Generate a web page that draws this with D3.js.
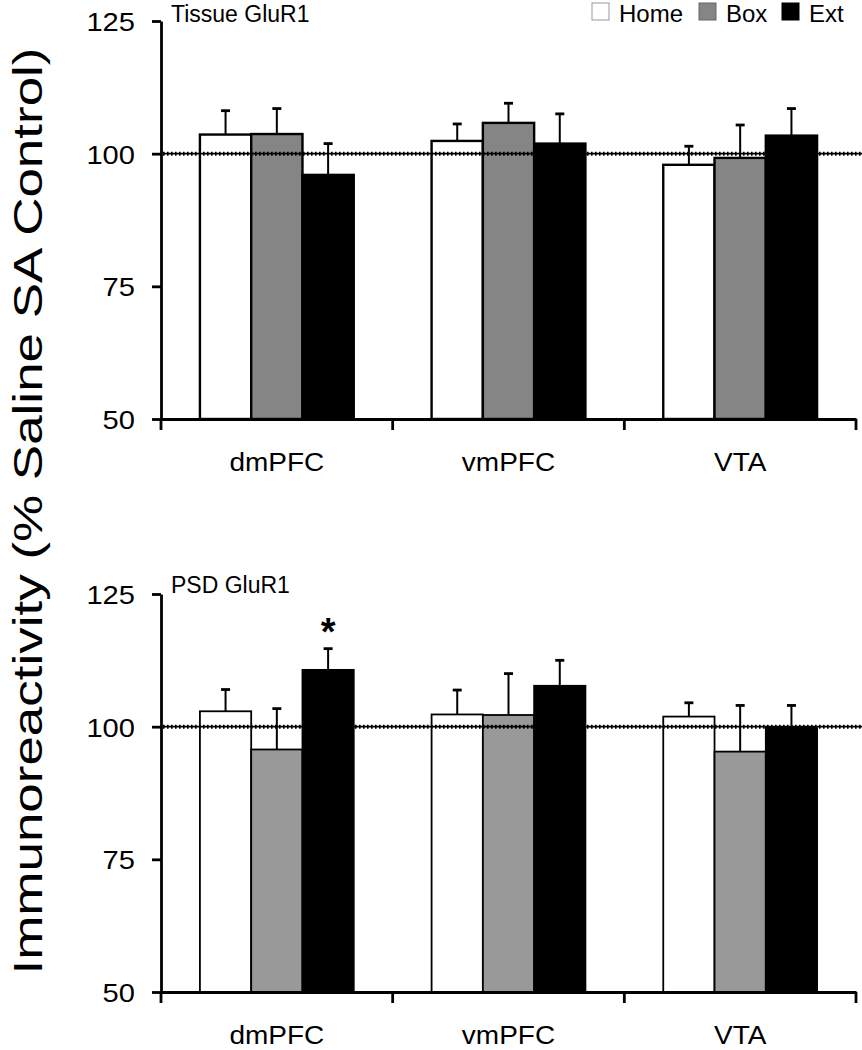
<!DOCTYPE html>
<html>
<head>
<meta charset="utf-8">
<script src="https://cdn.jsdelivr.net/npm/d3@7"></script>
<style>
  html, body { margin: 0; padding: 0; background: #fff; }
  svg { display: block; }
  text { font-family: "Liberation Sans", Arial, Helvetica, sans-serif; fill: #000; }
</style>
</head>
<body>
<svg id="chart" width="862" height="1050"></svg>
<script>
// ---- data ----
const categories = ["dmPFC", "vmPFC", "VTA"];
const series = ["Home", "Box", "Ext"];
const yTicks = [50, 75, 100, 125];

// Tissue GluR1 (% saline SA control): means and SEM, per series across categories
const tissueHome = [103.6, 102.4, 97.9];
const tissueBox  = [103.7, 105.8, 99.2];
const tissueExt  = [96.0, 101.9, 103.4];
const tissueHomeErr = [4.5, 3.2, 3.5];
const tissueBoxErr  = [4.8, 3.7, 6.2];
const tissueExtErr  = [5.9, 5.6, 5.1];

// PSD GluR1
const psdHome = [102.9, 102.3, 101.9];
const psdBox  = [95.7, 102.2, 95.3];
const psdExt  = [110.7, 107.7, 99.8];
const psdHomeErr = [4.1, 4.6, 2.6];
const psdBoxErr  = [7.7, 7.8, 8.7];
const psdExtErr  = [4.0, 4.8, 4.2];

const psdSignificant = [{ category: "dmPFC", series: "Ext" }];

const panelTitles = ["Tissue GluR1", "PSD GluR1"];
const yLabel = "Immunoreactivity (% Saline SA Control)";
const referenceValue = 100;

// ---- build tables ----
function table(vals, errs) {
  const rows = [];
  series.forEach((s, si) => {
    categories.forEach((c, ci) => {
      rows.push({ category: c, series: s, value: vals[si][ci], err: errs[si][ci] });
    });
  });
  return rows;
}
const tissueRows = table([tissueHome, tissueBox, tissueExt], [tissueHomeErr, tissueBoxErr, tissueExtErr]);
const psdRows = table([psdHome, psdBox, psdExt], [psdHomeErr, psdBoxErr, psdExtErr]);

// ---- layout ----
const svg = d3.select("#chart");
const xLeft = 161, xRight = 856;

const x0 = d3.scaleBand().domain(categories).range([xLeft, xRight]).padding(0);
const bw = x0.bandwidth();
const x1 = d3.scaleBand().domain(series).range([bw * 0.168, bw * 0.832]).padding(0);

const panels = [
  { rows: tissueRows, title: panelTitles[0], top: 21, bottom: 419, titleY: 22,
    fills: { Home: "#ffffff", Box: "#858585", Ext: "#000000" }, strokeW: 2.4, sig: [] },
  { rows: psdRows, title: panelTitles[1], top: 594, bottom: 992, titleY: 593,
    fills: { Home: "#ffffff", Box: "#999999", Ext: "#000000" }, strokeW: 1.8, sig: psdSignificant }
];

panels.forEach(p => {
  const y = d3.scaleLinear().domain([50, 125]).range([p.bottom, p.top]);
  const g = svg.append("g");

  // bars
  g.selectAll("rect.bar").data(p.rows).enter().append("rect")
    .attr("class", "bar")
    .attr("x", d => x0(d.category) + x1(d.series))
    .attr("width", x1.bandwidth())
    .attr("y", d => y(d.value))
    .attr("height", d => y(50) - y(d.value))
    .attr("fill", d => p.fills[d.series])
    .attr("stroke", "#000")
    .attr("stroke-width", p.strokeW);

  // error bars
  const eb = g.selectAll("g.err").data(p.rows).enter().append("g").attr("class", "err");
  const cx = d => x0(d.category) + x1(d.series) + x1.bandwidth() / 2;
  eb.append("line")
    .attr("x1", cx).attr("x2", cx)
    .attr("y1", d => y(d.value)).attr("y2", d => y(d.value + d.err))
    .attr("stroke", "#000").attr("stroke-width", 2);
  eb.append("line")
    .attr("x1", d => cx(d) - 4.5).attr("x2", d => cx(d) + 4.5)
    .attr("y1", d => y(d.value + d.err)).attr("y2", d => y(d.value + d.err))
    .attr("stroke", "#000").attr("stroke-width", 2.8);

  // reference line at 100 (dotted)
  g.append("line")
    .attr("x1", xLeft + 2).attr("x2", 862)
    .attr("y1", y(referenceValue)).attr("y2", y(referenceValue))
    .attr("stroke", "#000").attr("stroke-width", 1.8);
  g.append("line")
    .attr("x1", xLeft + 2).attr("x2", 862)
    .attr("y1", y(referenceValue)).attr("y2", y(referenceValue))
    .attr("stroke", "#000").attr("stroke-width", 4)
    .attr("stroke-dasharray", "1.6,2.4");

  // y axis
  const yAxis = g.append("g")
    .attr("transform", `translate(${xLeft},0)`)
    .call(d3.axisLeft(y).tickValues(yTicks).tickSize(9).tickSizeOuter(0).tickFormat(d3.format("d")));
  yAxis.select(".domain").attr("stroke", "#000").attr("stroke-width", 2.8);
  yAxis.selectAll(".tick line").attr("stroke", "#000").attr("stroke-width", 2.8);
  yAxis.selectAll(".tick text")
    .attr("x", 0).attr("dy", "0.36em")
    .attr("transform", "translate(-26,0) scale(1.12,1)")
    .style("font-size", "26px")
    .style("font-family", "'Liberation Sans', Arial, sans-serif");

  // x axis
  const xAxis = g.append("g")
    .attr("transform", `translate(0,${p.bottom})`)
    .call(d3.axisBottom(x0).tickSize(0).tickSizeOuter(0));
  xAxis.select(".domain").attr("stroke", "#000").attr("stroke-width", 2.8);
  xAxis.selectAll(".tick text")
    .attr("y", 0).attr("dy", 0)
    .attr("transform", "translate(0,52) scale(1.12,1)")
    .style("font-size", "25px")
    .style("font-family", "'Liberation Sans', Arial, sans-serif");
  // boundary ticks between categories
  const bounds = categories.map(c => x0(c)).concat([x0(categories[categories.length - 1]) + bw]);
  xAxis.selectAll("line.bound").data(bounds).enter().append("line")
    .attr("class", "bound")
    .attr("x1", d => d).attr("x2", d => d)
    .attr("y1", 0).attr("y2", 11)
    .attr("stroke", "#000").attr("stroke-width", 2.8);

  // panel title
  g.append("text")
    .attr("x", xLeft + 10).attr("y", p.titleY)
    .style("font-size", "23px")
    .text(p.title);

  // significance
  g.selectAll("text.sig").data(p.sig).enter().append("text")
    .attr("class", "sig")
    .attr("x", d => x0(d.category) + x1(d.series) + x1.bandwidth() / 2)
    .attr("y", d => {
      const r = p.rows.find(q => q.category === d.category && q.series === d.series);
      return y(r.value + r.err) - 4;
    })
    .attr("text-anchor", "middle")
    .style("font-size", "38px")
    .style("font-weight", "bold")
    .text("*");
});

// legend
const legendColors = { Home: "#ffffff", Box: "#858585", Ext: "#000000" };
const legendX = [592, 699, 782];
const lg = svg.append("g");
series.forEach((s, i) => {
  lg.append("rect")
    .attr("x", legendX[i]).attr("y", 3).attr("width", 17).attr("height", 17)
    .attr("fill", legendColors[s])
    .attr("stroke", s === "Home" ? "#999" : (s === "Box" ? "#666" : "#000"))
    .attr("stroke-width", 1);
  lg.append("text")
    .attr("x", legendX[i] + 27).attr("y", 22)
    .style("font-size", "24px")
    .text(s);
});

// y label
svg.append("text")
  .attr("transform", "translate(42,511) rotate(-90)")
  .attr("text-anchor", "middle")
  .attr("textLength", 927)
  .attr("lengthAdjust", "spacingAndGlyphs")
  .style("font-size", "41px")
  .text(yLabel);
</script>
</body>
</html>
